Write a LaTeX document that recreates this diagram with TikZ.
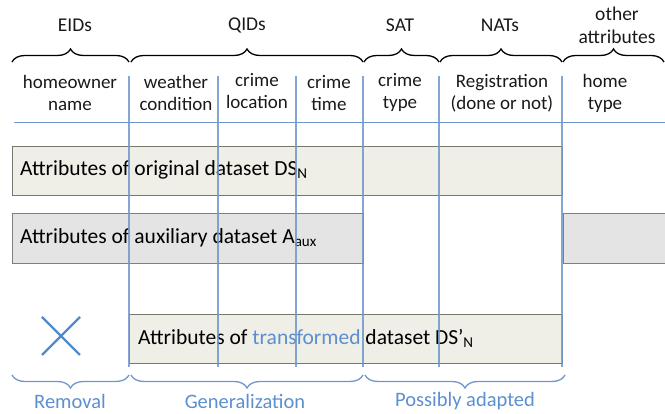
\documentclass[tikz,border=0pt]{standalone}
\usepackage{fontspec}
\setmainfont{Carlito}
\usetikzlibrary{decorations.pathreplacing}

\definecolor{gridblue}{HTML}{7097CC}
\definecolor{markblue}{HTML}{4F8BCB}
\definecolor{labelblue}{HTML}{5C8FD0}
\definecolor{origfill}{HTML}{EFEEE7}
\definecolor{origedge}{HTML}{77776C}
\definecolor{auxfill}{HTML}{E4E4E4}
\definecolor{auxedge}{HTML}{7F7F7F}

\tikzset{
  hdr/.style={align=center, text=black!90, font=\fontsize{19}{22}\selectfont},
  boxtext/.style={anchor=west, inner sep=0pt, font=\fontsize{21.5}{24}\selectfont},
  toplabel/.style={align=center, text=black!90, font=\fontsize{19.5}{23}\selectfont},
  steplabel/.style={text=labelblue, font=\fontsize{20.5}{23}\selectfont},
  topbrace/.style={decorate, decoration={brace, amplitude=13pt}, line width=1.3pt},
  botbrace/.style={decorate, decoration={brace, amplitude=13pt}, line width=1.3pt, draw=gridblue},
}

\begin{document}
\begin{tikzpicture}[x=1pt,y=1pt]
  \useasboundingbox (0,0) rectangle (665,414);

  % Boxes
  \filldraw[fill=origfill, draw=origedge, line width=0.9pt] (12,268) rectangle (562,219);
  \filldraw[fill=auxfill, draw=auxedge, line width=0.9pt] (12,201) rectangle (363,151);
  \filldraw[fill=auxfill, draw=auxedge, line width=0.9pt] (563,201) rectangle (680,151);
  \filldraw[fill=origfill, draw=origedge, line width=0.9pt] (129,100) rectangle (562,51);

  \node[boxtext] (orig) at (20,244) {Attributes of original dataset DS\textsubscript{N}};
  \node[boxtext] (aux) at (20,176) {Attributes of auxiliary dataset A\textsubscript{aux}};
  \node[boxtext] (trans) at (138,76) {Attributes of \textcolor{labelblue}{transformed} dataset DS’\textsubscript{N}};

  % Grid
  \draw[gridblue, line width=1pt] (14,291) -- (665,291);
  \foreach \x in {129,218,296,363,439,562}
    \draw[gridblue, line width=1.1pt, opacity=0.85] (\x,338) -- (\x,47);

  % Column headers
  \node[hdr] (owner) at (70,321) {homeowner\\name};
  \node[hdr] (weather) at (176,321) {weather\\condition};
  \node[hdr] (location) at (257,323) {crime\\location};
  \node[hdr] (ctime) at (329,321) {crime\\time};
  \node[hdr] (ctype) at (400,321) {crime\\type};
  \node[hdr] (regist) at (502,321) {Registration\\(done or not)};
  \node[hdr] (htype) at (605,321) {home\\type};

  % Attribute classes
  \draw[topbrace] (12,352) -- (129,352);
  \draw[topbrace] (131,352) -- (363,352);
  \draw[topbrace] (364,352) -- (439,352);
  \draw[topbrace] (440,352) -- (562,352);
  \draw[topbrace] (563,352) -- (664,352);
  \node[toplabel] (eids) at (75,389) {EIDs};
  \node[toplabel] (qids) at (247,389) {QIDs};
  \node[toplabel] (sat) at (400,389) {SAT};
  \node[toplabel] (nats) at (500,389) {NATs};
  \node[toplabel] (other) at (617,389) {other\\attributes};

  % Removal mark
  \draw[markblue, line width=2.2pt] (42,97) -- (80,59) (42,59) -- (80,97);

  % Operations
  \draw[botbrace] (129,39) -- (12,39);
  \draw[botbrace] (363,39) -- (131,39);
  \draw[botbrace] (565,39) -- (365,39);
  \node[steplabel] (removal) at (70,13) {Removal};
  \node[steplabel] (general) at (245,13) {Generalization};
  \node[steplabel] (adapted) at (465,13) {Possibly adapted};
\end{tikzpicture}
\end{document}
